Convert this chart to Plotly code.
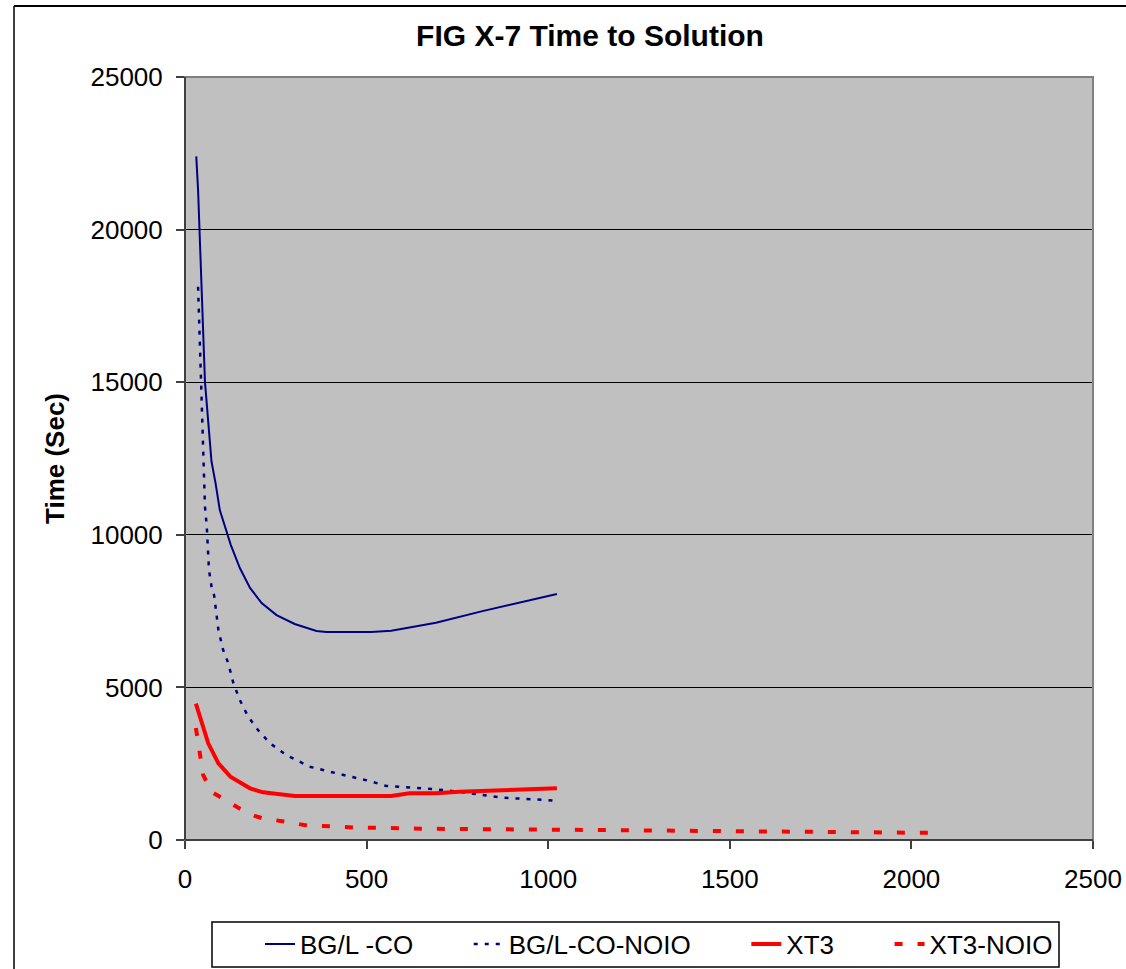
import plotly.graph_objects as go

# ---- data ----
bgl_co_x = [31, 36, 55, 73, 84, 96, 126, 151, 179, 211, 252, 302, 362, 389, 513, 568, 691, 819, 1024]
bgl_co_y = [22400, 21300, 15000, 12400, 11700, 10800, 9670, 8910, 8260, 7765, 7370, 7077, 6850, 6815, 6815, 6858, 7120, 7500, 8060]

bgl_noio_x = [36, 44, 49, 55, 60, 66, 73, 80, 92, 105, 119, 133, 151, 174, 201, 234, 279, 343, 417, 472, 508, 554, 691, 755, 874, 993, 1024]
bgl_noio_y = [18130, 15000, 13430, 10920, 10265, 8846, 8300, 8030, 6880, 6225, 5800, 5144, 4587, 4040, 3604, 3168, 2785, 2403, 2185, 2040, 1933, 1770, 1660, 1583, 1386, 1310, 1280]

xt3_x = [30, 64, 92, 125, 179, 215, 302, 513, 568, 618, 691, 755, 1024]
xt3_y = [4470, 3168, 2512, 2075, 1693, 1562, 1442, 1442, 1442, 1530, 1530, 1583, 1693]

xt3_noio_x = [30, 41, 50, 73, 118, 148, 190, 211, 275, 338, 403, 464, 536, 650, 1100, 1450, 2048]
xt3_noio_y = [3670, 2900, 2130, 1580, 1255, 1048, 800, 720, 600, 470, 450, 410, 400, 370, 330, 295, 235]

series_names = ["BG/L -CO", "BG/L-CO-NOIO", "XT3", "XT3-NOIO"]
y_ticks = [0, 5000, 10000, 15000, 20000, 25000]
x_ticks = [0, 500, 1000, 1500, 2000, 2500]

NAVY = "#000080"
RED = "#FF0000"
FONT = "Liberation Sans, Arial, sans-serif"
PAD = "\u00a0" * 7  # spacing between legend entries

fig = go.Figure()
fig.add_trace(go.Scatter(x=bgl_co_x, y=bgl_co_y, mode="lines", name=series_names[0] + PAD,
                         line=dict(color=NAVY, width=2)))
fig.add_trace(go.Scatter(x=bgl_noio_x, y=bgl_noio_y, mode="lines", name=series_names[1] + PAD,
                         line=dict(color=NAVY, width=2.5, dash="4px,7px")))
fig.add_trace(go.Scatter(x=xt3_x, y=xt3_y, mode="lines", name=series_names[2] + PAD,
                         line=dict(color=RED, width=4)))
fig.add_trace(go.Scatter(x=xt3_noio_x, y=xt3_noio_y, mode="lines", name=series_names[3],
                         line=dict(color=RED, width=4, dash="8px,15px")))

L, R, T, B = 185, 33, 77, 129
W, H = 1126, 969
pw, ph = W - L - R, H - T - B

def px(x):
    return (x - L) / pw

def py(y):
    return (H - B - y) / ph

shapes = [
    # plot area border (grey)
    dict(type="rect", xref="paper", yref="paper", x0=0, x1=1, y0=0, y1=1,
         line=dict(color="#808080", width=2), layer="above"),
    # dark left and bottom axis lines
    dict(type="line", xref="paper", yref="paper", x0=0, x1=0, y0=0, y1=1,
         line=dict(color="#404040", width=2), layer="above"),
    dict(type="line", xref="paper", yref="paper", x0=0, x1=1, y0=0, y1=0,
         line=dict(color="#404040", width=2), layer="above"),
    # outer chart frame (top and left visible)
    dict(type="line", xref="paper", yref="paper", x0=px(14), x1=px(1140), y0=py(6), y1=py(6),
         line=dict(color="black", width=2), layer="above"),
    dict(type="line", xref="paper", yref="paper", x0=px(14), x1=px(14), y0=py(6), y1=py(990),
         line=dict(color="black", width=1.5), layer="above"),
    # legend frame
    dict(type="rect", xref="paper", yref="paper", x0=px(212), x1=px(1059), y0=py(967), y1=py(922),
         line=dict(color="black", width=1.5), layer="above"),
]

fig.update_layout(
    width=W, height=H,
    margin=dict(l=L, r=R, t=T, b=B, autoexpand=False),
    paper_bgcolor="white",
    plot_bgcolor="#C0C0C0",
    font=dict(family=FONT, size=26, color="black"),
    title=dict(text="<b>FIG X-7 Time to Solution</b>", x=590 / W, xanchor="center",
               y=1 - 35 / H, yanchor="middle", font=dict(size=30, family=FONT)),
    xaxis=dict(range=[0, 2500], tickvals=x_ticks, ticktext=[str(v) for v in x_ticks],
               showgrid=False, zeroline=False, showline=False,
               ticks="outside", ticklen=8, tickwidth=1.5, tickcolor="#404040",
               ticklabelstandoff=8, tickfont=dict(size=26)),
    yaxis=dict(range=[0, 25000], tickvals=y_ticks, ticktext=[str(v) for v in y_ticks],
               showgrid=True, gridcolor="black", gridwidth=1, zeroline=False, showline=False,
               ticks="outside", ticklen=8, tickwidth=1.5, tickcolor="#404040",
               ticklabelstandoff=8, tickfont=dict(size=26),
               title=dict(text="<b>Time (Sec)</b>", standoff=18, font=dict(size=26))),
    showlegend=True,
    legend=dict(orientation="h", x=px(260), xanchor="left", y=py(944), yanchor="middle",
                bgcolor="rgba(0,0,0,0)", borderwidth=0,
                font=dict(size=26, family=FONT)),
    shapes=shapes,
)

fig.write_html("out.html")
